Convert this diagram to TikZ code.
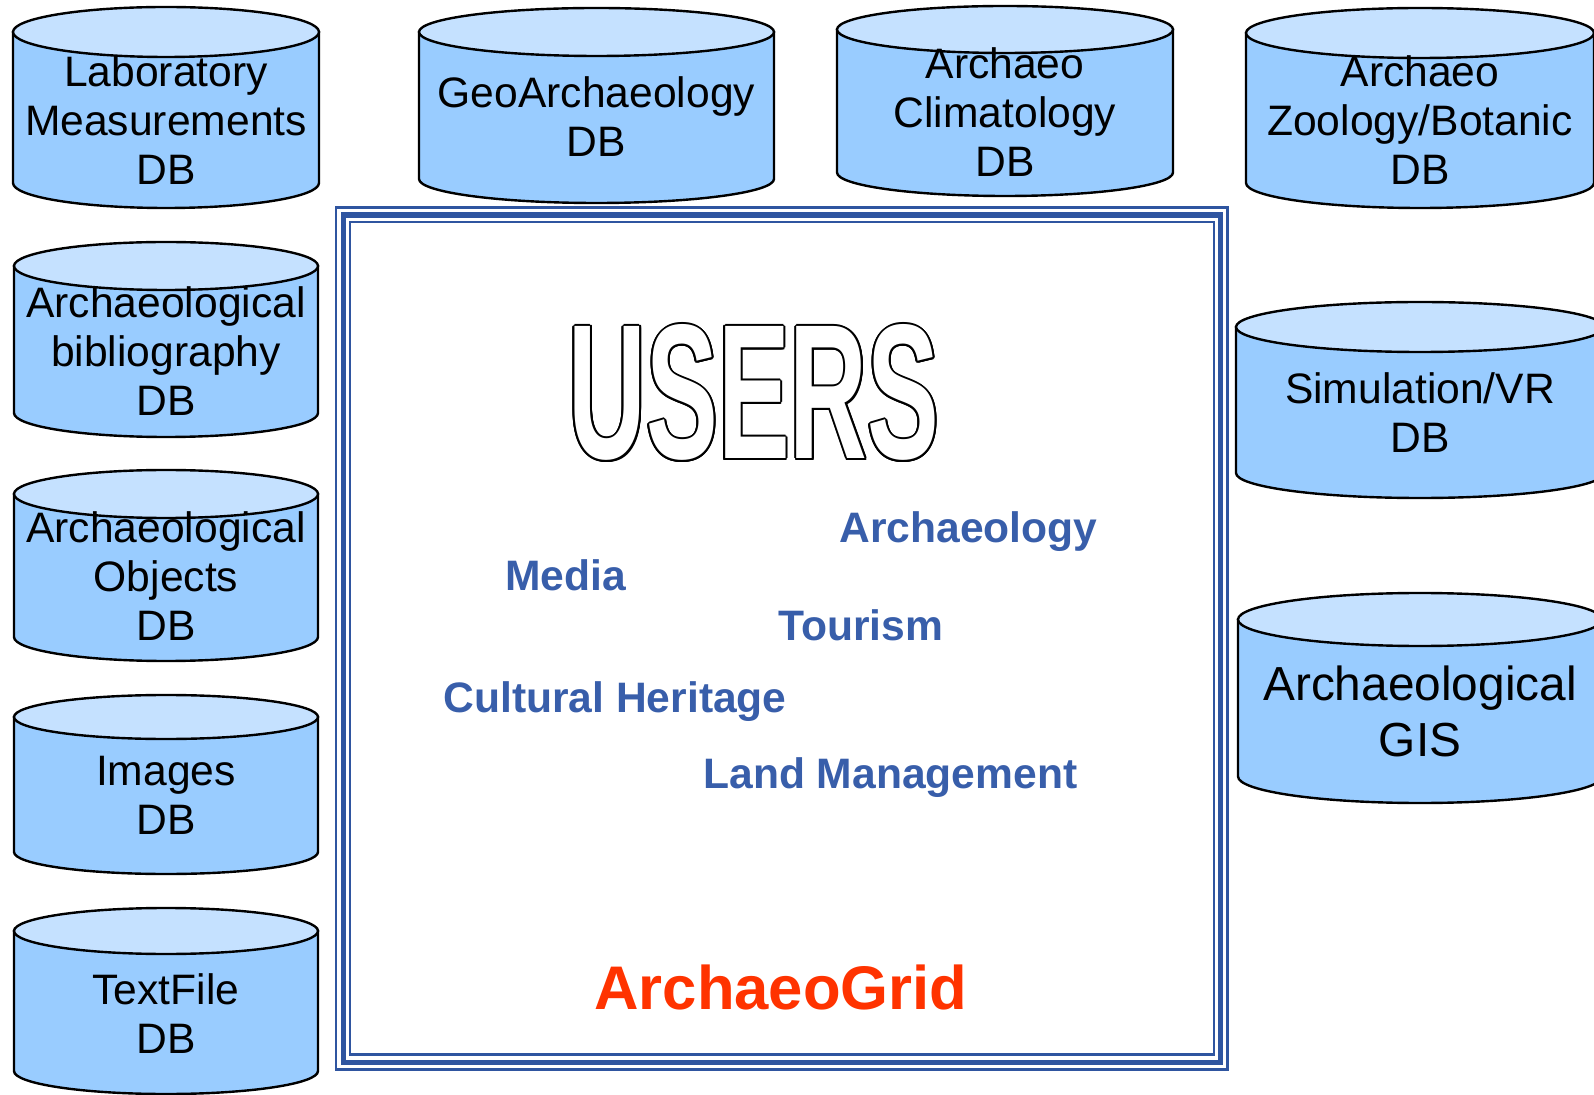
\documentclass[tikz,border=0pt]{standalone}
\usepackage{fontspec}
\setmainfont{Liberation Sans}
\newfontfamily\usersfont{Liberation Sans}[FakeStretch=0.56]
\usepackage{contour}
\contourlength{1pt}
\usetikzlibrary{positioning}

\definecolor{dbbody}{RGB}{153,204,255}
\definecolor{dbtop}{RGB}{197,225,255}
\definecolor{framecol}{RGB}{47,85,160}
\definecolor{usercol}{RGB}{56,94,170}
\definecolor{gridred}{RGB}{255,51,0}

% centre x, half width, top y, bottom y, ellipse radius
\newcommand{\dbcyl}[5]{%
  \filldraw[cylline, fill=dbbody] (#1-#2,-#3-#5) -- (#1-#2,-#4+#5)
    arc[start angle=180, end angle=360, x radius=#2, y radius=#5] -- (#1+#2,-#3-#5) -- cycle;
  \filldraw[cylline, fill=dbtop] (#1,-#3-#5) ellipse [x radius=#2, y radius=#5];
}

\begin{document}
\begin{tikzpicture}[x=0.5pt, y=0.5pt,
    cylline/.style={draw=black, line width=1.2pt},
    dbtext/.style={anchor=south, inner sep=0pt, align=center, font=\fontsize{21.3}{24.5}\selectfont},
    userlabel/.style={anchor=base west, inner sep=0pt, text=usercol, font=\bfseries\fontsize{21.3}{25}\selectfont}]
    \useasboundingbox (0,0) rectangle (1594,-1095);
    \clip (0,0) rectangle (1594,-1095);

    % Cylinders
    \dbcyl{166}{153}{7}{208}{25}
    \dbcyl{596.5}{177.5}{8}{203}{24}
    \dbcyl{1005}{168}{6}{196}{23.5}
    \dbcyl{1420}{174}{8}{208}{25}
    \dbcyl{166}{152}{242}{437}{24}
    \dbcyl{166}{152}{470}{661}{24}
    \dbcyl{166}{152}{695}{874}{22}
    \dbcyl{166}{152}{908}{1094}{23}
    \dbcyl{1420}{184}{302}{498}{25}
    \dbcyl{1420}{182}{593}{803}{26.5}

    % Nodes
    \node[dbtext] (lab) at (166,-185) {Laboratory\\Measurements\\DB};
    \node[dbtext] (geo) at (596.5,-157) {GeoArchaeology\\DB};
    \node[dbtext] (clim) at (1005,-177) {Archaeo\\Climatology\\DB};
    \node[dbtext] (zoo) at (1420,-185) {Archaeo\\Zoology/Botanic\\DB};
    \node[dbtext] (bib) at (166,-416) {Archaeological\\bibliography\\DB};
    \node[dbtext] (obj) at (166,-641) {Archaeological\\Objects\\DB};
    \node[dbtext] (img) at (166,-835) {Images\\DB};
    \node[dbtext] (txt) at (166,-1054) {TextFile\\DB};
    \node[dbtext] (sim) at (1420,-453) {Simulation/VR\\DB};
    \node[dbtext, font=\fontsize{23.9}{28}\selectfont] (gis) at (1420,-757) {Archaeological\\GIS};

    % Users frame
    \draw[framecol, line width=1.3pt] (336,-207.5) rectangle (1227.5,-1069.5);
    \draw[framecol, line width=2.6pt] (343.5,-215) rectangle (1220.5,-1062.5);
    \draw[framecol, line width=1.3pt] (350,-222) rectangle (1214,-1054.5);

    \node[anchor=base, inner sep=0pt, font=\usersfont\bfseries\fontsize{96}{96}\selectfont] (users) at (754,-459) {\color{white}\contour{black}{USERS}};
    \node[userlabel] (arch) at (839,-543) {Archaeology};
    \node[userlabel] (media) at (505,-590) {Media};
    \node[userlabel] (tour) at (778,-640) {Tourism};
    \node[userlabel] (cult) at (443,-712) {Cultural Heritage};
    \node[userlabel] (land) at (703,-788) {Land Management};
    \node[anchor=base west, inner sep=0pt, text=gridred, font=\bfseries\fontsize{30.8}{36}\selectfont] (grid) at (594,-1009) {ArchaeoGrid};
\end{tikzpicture}
\end{document}
